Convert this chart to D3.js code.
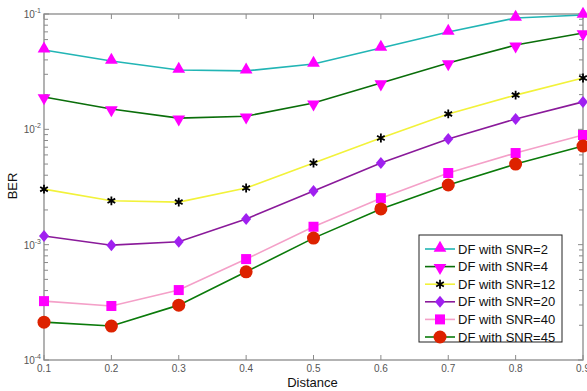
<!DOCTYPE html>
<head>
  <meta charset="utf-8">
  <script src="https://d3js.org/d3.v7.min.js"></script>
  <style>
    body { margin:0; background:#fff; }
    text { font-family: Arial, "Liberation Sans", sans-serif; }
  </style>
</head>
<body>
<script>
  var distance = [0.1, 0.2, 0.3, 0.4, 0.5, 0.6, 0.7, 0.8, 0.9];
  var snr2  = [0.0488, 0.0391, 0.0327, 0.0321, 0.0368, 0.0507, 0.0698, 0.0923, 0.098];
  var snr4  = [0.0191, 0.0150, 0.0125, 0.0130, 0.0169, 0.0252, 0.0376, 0.0538, 0.0684];
  var snr12 = [0.00303, 0.00240, 0.00234, 0.00310, 0.00510, 0.00841, 0.0136, 0.0198, 0.0279];
  var snr20 = [0.00119, 0.00099, 0.00106, 0.00167, 0.00292, 0.00510, 0.00824, 0.0123, 0.0173];
  var snr40 = [0.000324, 0.000294, 0.000404, 0.00075, 0.00143, 0.00253, 0.00418, 0.00623, 0.00893];
  var snr45 = [0.000213, 0.000197, 0.000299, 0.000582, 0.00114, 0.00204, 0.00329, 0.0050, 0.00716];
  var xTicks = [0.1, 0.2, 0.3, 0.4, 0.5, 0.6, 0.7, 0.8, 0.9];
  var yDecades = [1e-4, 1e-3, 1e-2, 1e-1];
  var yExponents = ["-4", "-3", "-2", "-1"];
  var seriesNames = ["DF with SNR=2", "DF with SNR=4", "DF with SNR=12", "DF with SNR=20", "DF with SNR=40", "DF with SNR=45"];

  var series = [
    {name: seriesNames[0], values: snr2,  line: "#22b5b5", marker: "up",     fill: "#ff00ff"},
    {name: seriesNames[1], values: snr4,  line: "#0a6e0a", marker: "down",   fill: "#ff00ff"},
    {name: seriesNames[2], values: snr12, line: "#f2f23a", marker: "star",   fill: "#000"},
    {name: seriesNames[3], values: snr20, line: "#8a1a9a", marker: "diamond",fill: "#a020f0"},
    {name: seriesNames[4], values: snr40, line: "#f4a0c8", marker: "square", fill: "#ff00ff"},
    {name: seriesNames[5], values: snr45, line: "#0a7a0a", marker: "circle", fill: "#dd2200"}
  ];

  var width = 587, height = 391;
  var plotL = 44, plotR = 583, plotT = 14, plotB = 360;

  var x = d3.scaleLinear().domain([0.1, 0.9]).range([plotL, plotR]);
  var y = d3.scaleLog().domain([1e-4, 1e-1]).range([plotB, plotT]);

  var svg = d3.select("body").append("svg")
    .attr("width", width)
    .attr("height", height);

  var axisColor = "#8a8a8a";

  // box
  svg.append("rect")
    .attr("x", plotL).attr("y", plotT)
    .attr("width", plotR - plotL).attr("height", plotB - plotT)
    .attr("fill", "none").attr("stroke", axisColor).attr("stroke-width", 1.3);

  // x ticks (bottom and top, inward)
  var gx = svg.append("g");
  xTicks.forEach(function(t) {
    gx.append("line").attr("x1", x(t)).attr("x2", x(t))
      .attr("y1", plotB).attr("y2", plotB - 5).attr("stroke", axisColor);
    gx.append("line").attr("x1", x(t)).attr("x2", x(t))
      .attr("y1", plotT).attr("y2", plotT + 5).attr("stroke", axisColor);
    gx.append("text").attr("x", x(t)).attr("y", plotB + 12)
      .attr("text-anchor", "middle").attr("font-size", 10).attr("fill", "#555")
      .text(t.toFixed(1));
  });

  // y ticks (log, major and minor, left and right)
  var gy = svg.append("g");
  y.ticks().forEach(function(t) {
    var lg10 = Math.log10(t);
    var major = Math.abs(lg10 - Math.round(lg10)) < 1e-9;
    var len = major ? 5 : 4;
    gy.append("line").attr("x1", plotL).attr("x2", plotL + len)
      .attr("y1", y(t)).attr("y2", y(t)).attr("stroke", axisColor);
    gy.append("line").attr("x1", plotR).attr("x2", plotR - len)
      .attr("y1", y(t)).attr("y2", y(t)).attr("stroke", axisColor);
  });
  yDecades.forEach(function(t, i) {
    var tx = gy.append("text").attr("x", plotL - 3).attr("y", y(t) + 4)
      .attr("text-anchor", "end").attr("font-size", 10).attr("fill", "#555");
    tx.append("tspan").text("10");
    tx.append("tspan").attr("dy", -5).attr("font-size", 7).text(yExponents[i]);
  });

  // axis titles
  svg.append("text").attr("x", (plotL + plotR) / 2 - 1).attr("y", 387)
    .attr("text-anchor", "middle").attr("font-size", 13).attr("fill", "#111")
    .text("Distance");
  svg.append("text").attr("transform", "translate(17,186) rotate(-90)")
    .attr("text-anchor", "middle").attr("font-size", 13).attr("fill", "#111")
    .text("BER");

  function drawMarker(g, type, fill, cx, cy) {
    if (type === "up") {
      g.append("path").attr("d", d3.symbol(d3.symbolTriangle, 70)())
        .attr("transform", "translate(" + cx + "," + (cy - 1) + ")").attr("fill", fill);
    } else if (type === "down") {
      g.append("path").attr("d", d3.symbol(d3.symbolTriangle, 70)())
        .attr("transform", "translate(" + cx + "," + (cy + 1) + ") rotate(180)").attr("fill", fill);
    } else if (type === "star") {
      g.append("path").attr("d", d3.symbol(d3.symbolAsterisk, 55)())
        .attr("transform", "translate(" + cx + "," + cy + ")")
        .attr("fill", "none").attr("stroke", fill).attr("stroke-width", 1.8);
    } else if (type === "diamond") {
      g.append("path").attr("d", "M0,-6L5,0L0,6L-5,0Z")
        .attr("transform", "translate(" + cx + "," + cy + ")").attr("fill", fill);
    } else if (type === "square") {
      g.append("rect").attr("x", cx - 5).attr("y", cy - 5)
        .attr("width", 10).attr("height", 10).attr("fill", fill);
    } else if (type === "circle") {
      g.append("circle").attr("cx", cx).attr("cy", cy).attr("r", 6.5).attr("fill", fill);
    }
  }

  var line = d3.line()
    .x(function(d, i) { return x(distance[i]); })
    .y(function(d) { return y(d); });

  series.forEach(function(s) {
    var g = svg.append("g");
    g.append("path").attr("d", line(s.values))
      .attr("fill", "none").attr("stroke", s.line).attr("stroke-width", 1.6);
    s.values.forEach(function(v, i) {
      drawMarker(g, s.marker, s.fill, x(distance[i]), y(v));
    });
  });

  // legend
  var lg = svg.append("g");
  lg.append("rect").attr("x", 419).attr("y", 235).attr("width", 143).attr("height", 107)
    .attr("fill", "#fff").attr("stroke", "#222").attr("stroke-width", 1);
  series.forEach(function(s, i) {
    var ly = 249 + i * 17.6;
    lg.append("line").attr("x1", 425).attr("x2", 455).attr("y1", ly).attr("y2", ly)
      .attr("stroke", s.line).attr("stroke-width", 1.6);
    drawMarker(lg, s.marker, s.fill, 440, ly);
    lg.append("text").attr("x", 458).attr("y", ly + 4.5)
      .attr("font-size", 13).attr("fill", "#111").text(s.name);
  });
</script>
</body>
